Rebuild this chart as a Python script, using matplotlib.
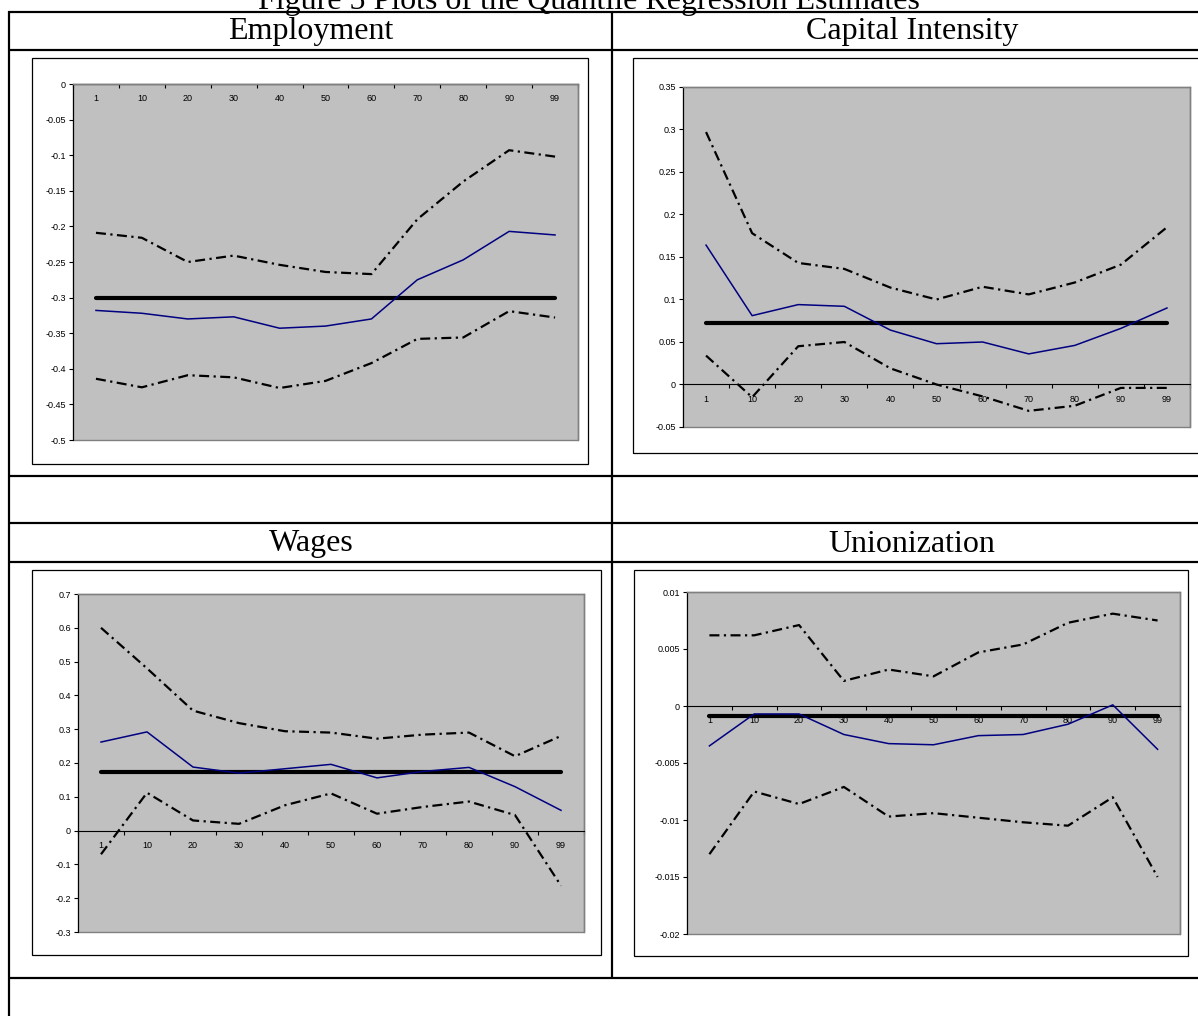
import matplotlib
matplotlib.use("Agg")
import matplotlib.pyplot as plt
from matplotlib.lines import Line2D
from matplotlib.patches import Rectangle
from matplotlib.ticker import FixedLocator, FuncFormatter

W, H = 1198, 1016

# ---- data -------------------------------------------------------------
quantiles = ["1", "10", "20", "30", "40", "50", "60", "70", "80", "90", "99"]

emp_est = [-0.318, -0.322, -0.330, -0.327, -0.343, -0.340, -0.330, -0.275, -0.247, -0.207, -0.212]
emp_upper = [-0.209, -0.216, -0.250, -0.241, -0.254, -0.264, -0.267, -0.190, -0.137, -0.093, -0.102]
emp_lower = [-0.414, -0.426, -0.409, -0.412, -0.427, -0.417, -0.392, -0.358, -0.356, -0.319, -0.328]
emp_ols = -0.300

cap_est = [0.164, 0.081, 0.094, 0.092, 0.064, 0.048, 0.050, 0.036, 0.046, 0.066, 0.090]
cap_upper = [0.297, 0.178, 0.143, 0.136, 0.114, 0.100, 0.115, 0.106, 0.120, 0.141, 0.185]
cap_lower = [0.034, -0.015, 0.045, 0.050, 0.019, 0.000, -0.014, -0.031, -0.025, -0.004, -0.004]
cap_ols = 0.072

wage_est = [0.262, 0.292, 0.188, 0.170, 0.183, 0.196, 0.156, 0.175, 0.187, 0.130, 0.060]
wage_upper = [0.600, 0.480, 0.355, 0.318, 0.294, 0.290, 0.272, 0.284, 0.290, 0.220, 0.280]
wage_lower = [-0.070, 0.112, 0.030, 0.020, 0.075, 0.110, 0.050, 0.070, 0.086, 0.046, -0.163]
wage_ols = 0.174

union_est = [-0.0035, -0.0007, -0.0007, -0.0025, -0.0033, -0.0034, -0.0026, -0.0025, -0.0016, 0.0001, -0.0038]
union_upper = [0.0062, 0.0062, 0.0071, 0.0022, 0.0032, 0.0026, 0.0047, 0.0054, 0.0073, 0.0081, 0.0075]
union_lower = [-0.0130, -0.0075, -0.0086, -0.0071, -0.0097, -0.0094, -0.0098, -0.0102, -0.0105, -0.0080, -0.0150]
union_ols = -0.0009

title = "Figure 5 Plots of the Quantile Regression Estimates"
panel_titles = ["Employment", "Capital Intensity", "Wages", "Unionization"]

# ---- helpers ----------------------------------------------------------
def fx(x):
    return x / W

def fy(y):
    return 1 - y / H

def rect(x0, y0, x1, y1):
    return [fx(x0), fy(y1), (x1 - x0) / W, (y1 - y0) / H]

fig = plt.figure(figsize=(W / 100, H / 100), dpi=100)
fig.patch.set_facecolor("white")

serif = ["Liberation Serif", "DejaVu Serif"]
sans = ["Liberation Sans", "DejaVu Sans"]

# table rules
def hline(y, x0, x1, lw=2.2):
    fig.add_artist(Line2D([fx(x0), fx(x1)], [fy(y), fy(y)], color="black", lw=lw * 0.72,
                          solid_capstyle="butt"))

def vline(x, y0, y1, lw=2.2):
    fig.add_artist(Line2D([fx(x), fx(x)], [fy(y0), fy(y1)], color="black", lw=lw * 0.72,
                          solid_capstyle="butt"))

for y in [12, 50, 476, 523, 562, 978]:
    hline(y, 8, W + 5)
vline(8.5, 11, H + 5)
vline(612, 11, 979)

# caption (runs off the top edge of the page) and cell headings
fig.text(fx(589), fy(9.0), title, family=serif, fontsize=23, ha="center", va="baseline")
heads = [(311, 32), (912, 32), (311, 544), (912, 544)]
for (hx, hy), t in zip(heads, panel_titles):
    fig.text(fx(hx), fy(hy), t, family=serif, fontsize=23, ha="center", va="center")

# chart frames
frames = [(32, 58, 588, 464), (633, 58, 1212, 453), (32, 570, 601, 955), (634, 570, 1188, 956)]
for x0, y0, x1, y1 in frames:
    fig.add_artist(Rectangle((fx(x0), fy(y1)), (x1 - x0) / W, (y1 - y0) / H,
                             transform=fig.transFigure, fill=False, edgecolor="black", lw=0.9))

# ---- panels -----------------------------------------------------------
panels = [
    dict(box=(73, 84, 578, 440), ylim=(-0.5, 0.0), step=0.05,
         est=emp_est, up=emp_upper, lo=emp_lower, ols=emp_ols),
    dict(box=(683, 87, 1190, 427), ylim=(-0.05, 0.35), step=0.05,
         est=cap_est, up=cap_upper, lo=cap_lower, ols=cap_ols),
    dict(box=(78, 594, 584, 932), ylim=(-0.3, 0.7), step=0.1,
         est=wage_est, up=wage_upper, lo=wage_lower, ols=wage_ols),
    dict(box=(687, 592, 1180, 934), ylim=(-0.02, 0.01), step=0.005,
         est=union_est, up=union_upper, lo=union_lower, ols=union_ols),
]

fmt = FuncFormatter(lambda v, p: f"{round(v, 6):g}" if abs(v) > 1e-12 else "0")
xs = list(range(len(quantiles)))
dashdot = (4.5, 2.0, 1.0, 2.0)

for p in panels:
    ax = fig.add_axes(rect(*p["box"]))
    ax.set_facecolor("#C0C0C0")
    ax.set_xlim(-0.5, len(quantiles) - 0.5)
    lo, hi = p["ylim"]
    ax.set_ylim(lo, hi)
    n = int(round((hi - lo) / p["step"]))
    ax.yaxis.set_major_locator(FixedLocator([lo + i * p["step"] for i in range(n + 1)]))
    ax.yaxis.set_major_formatter(fmt)

    # plot-area border in grey, value axis in black, category axis at zero
    for s in ["top", "right"]:
        ax.spines[s].set_color("#808080")
        ax.spines[s].set_linewidth(1.0)
    ax.spines["left"].set_color("black")
    ax.spines["left"].set_linewidth(0.8)
    ax.spines["bottom"].set_position(("data", 0))
    ax.spines["bottom"].set_color("black")
    ax.spines["bottom"].set_linewidth(0.8)
    ax.add_patch(Rectangle((0, 0), 1, 1, transform=ax.transAxes, fill=False,
                           edgecolor="#808080", lw=1.0, zorder=0.5, clip_on=False))

    ax.set_xticks(xs)
    ax.set_xticklabels(quantiles)
    ax.set_xticks([i - 0.5 for i in range(len(quantiles) + 1)], minor=True)
    ax.tick_params(axis="x", which="major", length=0, pad=7.5, labelsize=6.5)
    ax.tick_params(axis="x", which="minor", direction="out", length=3, width=0.8)
    ax.tick_params(axis="y", direction="out", length=3, width=0.8, pad=2, labelsize=6.5)
    for lab in ax.get_xticklabels() + ax.get_yticklabels():
        lab.set_family(sans)

    ax.plot(xs, p["up"], color="black", lw=1.6, dashes=dashdot, zorder=3)
    ax.plot(xs, p["lo"], color="black", lw=1.6, dashes=dashdot, zorder=3)
    ax.plot(xs, [p["ols"]] * len(xs), color="black", lw=3.0, solid_capstyle="round", zorder=4)
    ax.plot(xs, p["est"], color="#000080", lw=1.1, zorder=5)

fig.savefig("out.png", dpi=100, facecolor="white")
